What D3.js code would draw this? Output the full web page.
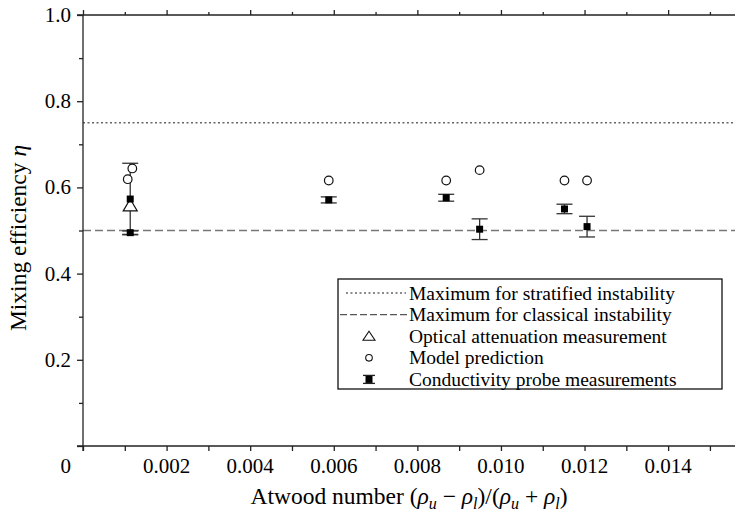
<!DOCTYPE html>
<html>
<head>
<meta charset="utf-8">
<script src="https://cdn.jsdelivr.net/npm/d3@7"></script>
<style>
  body { margin: 0; background: #fff; }
  svg { font-family: "Liberation Serif", "Times New Roman", serif; }
</style>
</head>
<body>
<div id="canvas"></div>
<script>
// data
const xTicks = [0.002, 0.004, 0.006, 0.008, 0.010, 0.012, 0.014];
const yTicks = [0.2, 0.4, 0.6, 0.8, 1.0];

const modelX = [0.00118, 0.00107, 0.00588, 0.00869, 0.00949, 0.01152, 0.01206];
const modelY = [0.644, 0.619, 0.616, 0.616, 0.640, 0.616, 0.616];

const probeX = [0.00113, 0.00113, 0.00588, 0.00869, 0.00949, 0.01152, 0.01206];
const probeY = [0.573, 0.495, 0.571, 0.576, 0.503, 0.550, 0.509];
const probeErr = [0.083, 0.004, 0.007, 0.008, 0.024, 0.011, 0.024];

const opticalX = [0.00113];
const opticalY = [0.557];

const stratMax = 0.75;
const classMax = 0.5;

const width = 735;
const height = 513;
const margin = { top: 15, left: 83, bottom: 67, right: 0 };

const svg = d3.select("#canvas").append("svg")
  .attr("width", width)
  .attr("height", height);

const x = d3.scaleLinear()
  .domain([0, 0.0156])
  .range([margin.left, width - margin.right]);

const y = d3.scaleLinear()
  .domain([0, 1])
  .range([height - margin.bottom, margin.top]);

const axisColor = "#222";
const fontSize = 21;
const titleSize = 23.5;

// reference lines
svg.append("line")
  .attr("x1", x(0)).attr("x2", x.range()[1])
  .attr("y1", y(stratMax)).attr("y2", y(stratMax))
  .attr("stroke", "#666").attr("stroke-width", 1.3)
  .attr("stroke-dasharray", "2,2.5");

svg.append("line")
  .attr("x1", x(0)).attr("x2", x.range()[1])
  .attr("y1", y(classMax)).attr("y2", y(classMax))
  .attr("stroke", "#777").attr("stroke-width", 1.6)
  .attr("stroke-dasharray", "8,4");

// axes
const minorX = d3.range(0, 0.0156, 0.001);
const minorY = d3.range(0, 1.0001, 0.1);

svg.append("g")
  .attr("transform", `translate(0,${y(0)})`)
  .call(d3.axisBottom(x).tickValues(minorX).tickSize(5).tickFormat(""))
  .call(g => g.select(".domain").attr("d", `M${x(0) - 6},0H${x.range()[1]}`));

svg.append("g")
  .attr("transform", `translate(0,${y(1)})`)
  .call(d3.axisTop(x).tickValues(minorX).tickSize(3).tickFormat(""))
  .call(g => g.select(".domain").attr("d", `M${x(0) - 6},0H${x.range()[1]}`))
  .call(g => g.selectAll(".tick line").filter(d => Math.round(d * 1000) % 2 === 0).attr("y2", -5));

svg.append("g")
  .attr("transform", `translate(${x(0)},0)`)
  .call(d3.axisLeft(y).tickValues(minorY).tickSize(4).tickFormat(""))
  .call(g => g.select(".domain").attr("d", `M0,${y(0) + 5}V${y(1)}`))
  .call(g => g.selectAll(".tick line").filter(d => Math.round(d * 10) % 2 === 0).attr("x2", -6));

svg.selectAll(".domain, .tick line").attr("stroke", axisColor).attr("stroke-width", 1.3);

// tick labels
svg.append("g").selectAll("text")
  .data(xTicks)
  .join("text")
  .attr("x", d => x(d))
  .attr("y", y(0) + 27)
  .attr("text-anchor", "middle")
  .attr("font-size", fontSize)
  .text(d => d3.format(".3f")(d));

svg.append("g").selectAll("text")
  .data(yTicks)
  .join("text")
  .attr("x", x(0) - 12)
  .attr("y", d => y(d) + 7)
  .attr("text-anchor", "end")
  .attr("font-size", fontSize)
  .text(d => d3.format(".1f")(d));

svg.append("text")
  .attr("x", x(0) - 12)
  .attr("y", y(0) + 27)
  .attr("text-anchor", "end")
  .attr("font-size", fontSize)
  .text("0");

// axis titles
const sub = 16;
const xt = svg.append("text")
  .attr("x", (x(0) + x.range()[1]) / 2)
  .attr("y", 504)
  .attr("text-anchor", "middle")
  .attr("font-size", titleSize);
xt.append("tspan").text("Atwood number (");
xt.append("tspan").attr("font-style", "italic").text("ρ");
xt.append("tspan").attr("font-style", "italic").attr("font-size", sub).attr("dy", 5).text("u");
xt.append("tspan").attr("dy", -5).text(" − ");
xt.append("tspan").attr("font-style", "italic").text("ρ");
xt.append("tspan").attr("font-style", "italic").attr("font-size", sub).attr("dy", 5).text("l");
xt.append("tspan").attr("dy", -5).text(")/(");
xt.append("tspan").attr("font-style", "italic").text("ρ");
xt.append("tspan").attr("font-style", "italic").attr("font-size", sub).attr("dy", 5).text("u");
xt.append("tspan").attr("dy", -5).text(" + ");
xt.append("tspan").attr("font-style", "italic").text("ρ");
xt.append("tspan").attr("font-style", "italic").attr("font-size", sub).attr("dy", 5).text("l");
xt.append("tspan").attr("dy", -5).text(")");

const yt = svg.append("text")
  .attr("transform", `translate(26,238) rotate(-90)`)
  .attr("text-anchor", "middle")
  .attr("font-size", titleSize);
yt.append("tspan").text("Mixing efficiency ");
yt.append("tspan").attr("font-style", "italic").text("η");

// conductivity probe: error bars + filled squares
const probe = probeX.map((d, i) => ({ x: d, y: probeY[i], e: probeErr[i] }));
const capW = 8;
const errG = svg.append("g").attr("stroke", "#333").attr("stroke-width", 1.3);
errG.selectAll(".stem").data(probe).join("line")
  .attr("x1", d => x(d.x)).attr("x2", d => x(d.x))
  .attr("y1", d => y(d.y + d.e)).attr("y2", d => y(d.y - d.e));
errG.selectAll(".capTop").data(probe).join("line")
  .attr("x1", d => x(d.x) - capW).attr("x2", d => x(d.x) + capW)
  .attr("y1", d => y(d.y + d.e)).attr("y2", d => y(d.y + d.e));
errG.selectAll(".capBot").data(probe).join("line")
  .attr("x1", d => x(d.x) - capW).attr("x2", d => x(d.x) + capW)
  .attr("y1", d => y(d.y - d.e)).attr("y2", d => y(d.y - d.e));

// optical attenuation triangle
svg.append("g").selectAll("path")
  .data(opticalX.map((d, i) => ({ x: d, y: opticalY[i] })))
  .join("path")
  .attr("transform", d => `translate(${x(d.x)},${y(d.y)})`)
  .attr("d", "M0,-7L7,5H-7Z")
  .attr("fill", "#fff").attr("stroke", "#111").attr("stroke-width", 1.2);

svg.append("g").selectAll("rect")
  .data(probe)
  .join("rect")
  .attr("x", d => x(d.x) - 3.5)
  .attr("y", d => y(d.y) - 3.5)
  .attr("width", 7).attr("height", 7)
  .attr("fill", "#000");

// model prediction circles
svg.append("g").selectAll("circle")
  .data(modelX.map((d, i) => ({ x: d, y: modelY[i] })))
  .join("circle")
  .attr("cx", d => x(d.x))
  .attr("cy", d => y(d.y))
  .attr("r", 4.3)
  .attr("fill", "#fff").attr("stroke", "#111").attr("stroke-width", 1.2);

// legend
const lg = svg.append("g").attr("transform", "translate(338,279)");
lg.append("rect")
  .attr("width", 384).attr("height", 110)
  .attr("fill", "#fff").attr("stroke", "#111").attr("stroke-width", 1.3);

const labels = [
  "Maximum for stratified instability",
  "Maximum for classical instability",
  "Optical attenuation measurement",
  "Model prediction",
  "Conductivity probe measurements"
];
const rowY = i => 14 + i * 21.6;
const textX = 71;
const symX = 31;

lg.selectAll("text").data(labels).join("text")
  .attr("x", textX)
  .attr("y", (d, i) => rowY(i) + 6.5)
  .attr("font-size", 19.5)
  .text(d => d);

lg.append("line").attr("x1", 8).attr("x2", 68).attr("y1", rowY(0)).attr("y2", rowY(0))
  .attr("stroke", "#666").attr("stroke-width", 1.3).attr("stroke-dasharray", "2,2.5");
lg.append("line").attr("x1", 2).attr("x2", 70).attr("y1", rowY(1)).attr("y2", rowY(1))
  .attr("stroke", "#555").attr("stroke-width", 1.3).attr("stroke-dasharray", "7,3");
lg.append("path").attr("transform", `translate(${symX},${rowY(2)})`)
  .attr("d", "M0,-5L6,4H-6Z")
  .attr("fill", "#fff").attr("stroke", "#111").attr("stroke-width", 1.1);
lg.append("circle").attr("cx", symX).attr("cy", rowY(3)).attr("r", 3.3)
  .attr("fill", "#fff").attr("stroke", "#111").attr("stroke-width", 1.1);
const cs = lg.append("g").attr("transform", `translate(${symX},${rowY(4)})`);
cs.append("line").attr("x1", -6).attr("x2", 6).attr("y1", -4).attr("y2", -4).attr("stroke", "#222").attr("stroke-width", 1.3);
cs.append("line").attr("x1", -6).attr("x2", 6).attr("y1", 4).attr("y2", 4).attr("stroke", "#222").attr("stroke-width", 1.3);
cs.append("rect").attr("x", -3.5).attr("y", -3.5).attr("width", 7).attr("height", 7).attr("fill", "#000");
</script>
</body>
</html>
